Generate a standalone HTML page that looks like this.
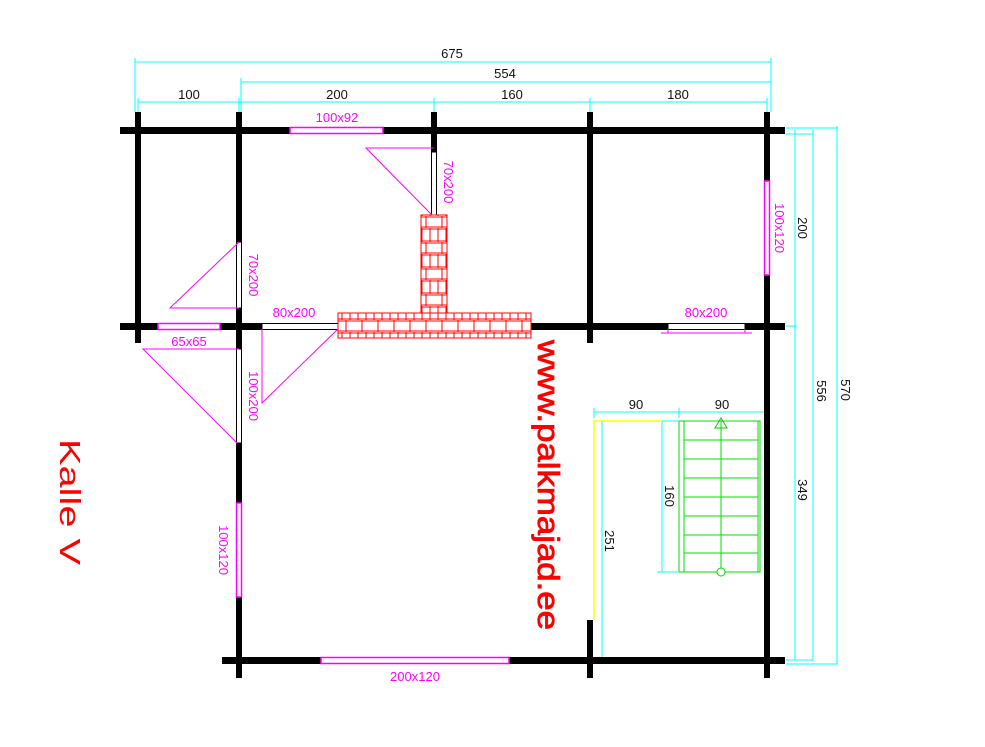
<!DOCTYPE html>
<html><head><meta charset="utf-8"><style>
html,body{margin:0;padding:0;background:#fff}
svg{display:block}
text{font-family:"Liberation Sans","DejaVu Sans",sans-serif}
</style></head><body>
<svg width="985" height="747" viewBox="0 0 985 747" xmlns="http://www.w3.org/2000/svg">
<defs>
<pattern id="brick" x="338" y="313" width="16" height="26" patternUnits="userSpaceOnUse">
<rect x="0" y="0" width="16" height="26" fill="#fff"/>
<path d="M0 6H16M0 8H16M0 18H16M0 20H16M4 0V7M12 0V7M8 7V19M4 19V26M12 19V26" stroke="#f00" stroke-width="1" fill="none"/>
</pattern>
</defs>
<g stroke="#0ff" stroke-width="1" fill="none">
<path d="M135 62H771M241 82H771M138 102H767"/>
<path d="M135 58V112M241 78V112M138 98V112M239 98V112M434 98V112M590 98V112M767 98V112M771 58V112"/>
<path d="M786 128H838M786 134H813M786 326H797M786 660H813M786 664H838"/>
<path d="M795 130V660M813 130V660M837 126V664"/>
<path d="M594 412H766M594 408V418M679 408V418M766 408V418M602 421V658M662 421V572M657 421H678M657 572H678"/>
</g>
<g font-size="13" fill="#111">
<text x="452" y="58" text-anchor="middle">675</text>
<text x="505" y="78" text-anchor="middle">554</text>
<text x="189" y="99" text-anchor="middle">100</text>
<text x="337" y="99" text-anchor="middle">200</text>
<text x="512" y="99" text-anchor="middle">160</text>
<text x="678" y="99" text-anchor="middle">180</text>
<text x="636" y="409" text-anchor="middle">90</text>
<text x="722" y="409" text-anchor="middle">90</text>
<text transform="translate(798,228) rotate(90)" text-anchor="middle">200</text>
<text transform="translate(798,490) rotate(90)" text-anchor="middle">349</text>
<text transform="translate(817,391) rotate(90)" text-anchor="middle">556</text>
<text transform="translate(841,390) rotate(90)" text-anchor="middle">570</text>
<text transform="translate(665,496) rotate(90)" text-anchor="middle">160</text>
<text transform="translate(605,541) rotate(90)" text-anchor="middle">251</text>
</g>
<path d="M594 620V421H662" stroke="#ff0" stroke-width="1.5" fill="none"/>
<g fill="#000">
<rect x="120" y="127" width="665" height="7"/>
<rect x="120" y="323" width="665" height="7"/>
<rect x="222" y="657" width="563" height="7"/>
<rect x="135" y="112" width="6" height="231"/>
<rect x="236" y="112" width="6" height="566"/>
<rect x="431" y="112" width="6" height="40"/>
<rect x="587" y="112" width="6" height="231"/>
<rect x="587" y="620" width="6" height="58"/>
<rect x="764" y="112" width="6" height="566"/>
</g>
<g fill="#fff" stroke="#f0f" stroke-width="1.5">
<rect x="290" y="127.5" width="93" height="6"/>
<rect x="764.5" y="181" width="5" height="94"/>
<rect x="158" y="323.5" width="62" height="6"/>
<rect x="236.5" y="503" width="5" height="94"/>
<rect x="321" y="657.5" width="188" height="6"/>
</g>
<g fill="#fff" stroke="#000" stroke-width="1">
<rect x="431.5" y="152" width="5" height="63"/>
<rect x="236.5" y="242" width="5" height="66"/>
<rect x="236.5" y="349" width="5" height="94"/>
<rect x="262" y="323.5" width="76" height="6"/>
<rect x="668" y="323.5" width="77" height="6"/>
</g>
<g stroke="#f0f" stroke-width="1" fill="none">
<path d="M434 148H366L432 215"/>
<path d="M239 242L170 308H239"/>
<path d="M262 329V403L338 329"/>
<path d="M237 443L143 349H239"/>
<path d="M661 333H752M668 329V333M745 329V333"/>
</g>
<g fill="url(#brick)" stroke="#f00" stroke-width="1">
<rect x="421" y="215" width="26" height="98"/>
<rect x="338" y="313" width="193" height="25"/>
</g>
<g font-size="13" fill="#f0f">
<text x="337" y="122" text-anchor="middle">100x92</text>
<text x="294" y="317" text-anchor="middle">80x200</text>
<text x="706" y="317" text-anchor="middle">80x200</text>
<text x="189" y="346" text-anchor="middle">65x65</text>
<text x="415" y="681" text-anchor="middle">200x120</text>
<text transform="translate(444,182) rotate(90)" text-anchor="middle">70x200</text>
<text transform="translate(249,275) rotate(90)" text-anchor="middle">70x200</text>
<text transform="translate(249,396) rotate(90)" text-anchor="middle">100x200</text>
<text transform="translate(775,228) rotate(90)" text-anchor="middle">100x120</text>
<text transform="translate(219,550) rotate(90)" text-anchor="middle">100x120</text>
</g>
<g stroke="#0d0" stroke-width="1" fill="none">
<rect x="679" y="421" width="81" height="151"/>
<path d="M684 421V572M758 421V572M721 421V572"/>
<path d="M684 440H758M684 459H758M684 478H758M684 497H758M684 516H758M684 535H758M684 553H758"/>
<path d="M715 428L721 418L727 428Z" stroke="#0c0"/>
<circle cx="721" cy="572" r="4" fill="#fff"/>
</g>
<text transform="translate(538,485) rotate(90)" text-anchor="middle" font-size="31" fill="#f00" stroke="#f00" stroke-width="0.8" textLength="290" lengthAdjust="spacingAndGlyphs">www.palkmajad.ee</text>
<text transform="translate(60,502) rotate(90)" text-anchor="middle" font-size="29" fill="#f00" textLength="126" lengthAdjust="spacingAndGlyphs">Kalle V</text>
</svg>
</body></html>
